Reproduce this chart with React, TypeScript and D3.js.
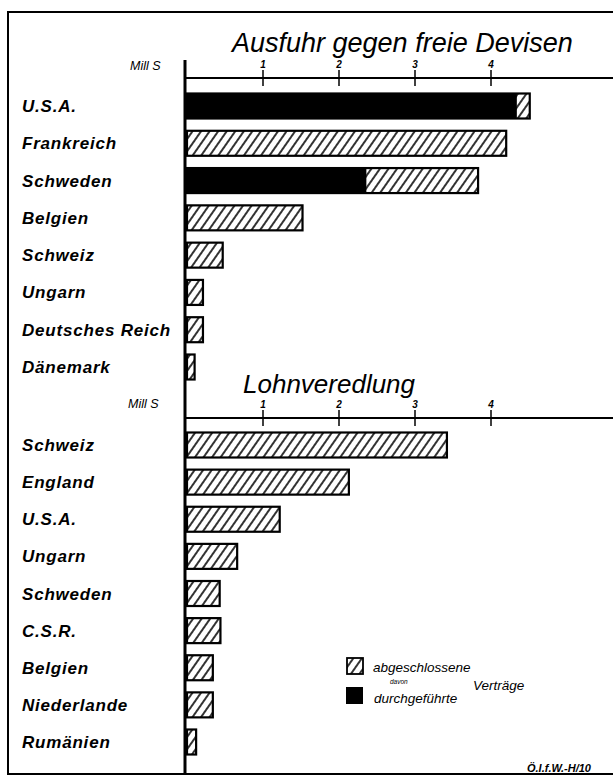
import React from "react";
import * as d3 from "d3";

// Ausfuhr gegen freie Devisen (Mill S)
const exportCountries = [
  "U.S.A.",
  "Frankreich",
  "Schweden",
  "Belgien",
  "Schweiz",
  "Ungarn",
  "Deutsches Reich",
  "Dänemark",
];
const exportClosed = [4.51, 4.2, 3.83, 1.52, 0.47, 0.21, 0.21, 0.1];
const exportExecuted = [4.34, 0, 2.36, 0, 0, 0, 0, 0];

// Lohnveredlung (Mill S)
const processingCountries = [
  "Schweiz",
  "England",
  "U.S.A.",
  "Ungarn",
  "Schweden",
  "C.S.R.",
  "Belgien",
  "Niederlande",
  "Rumänien",
];
const processingClosed = [3.42, 2.13, 1.22, 0.66, 0.43, 0.44, 0.34, 0.34, 0.12];

const tickValues = [1, 2, 3, 4];

const W = 613;
const H = 776;
const FONT = "'Liberation Sans', Arial, sans-serif";

const x = d3.scaleLinear().domain([0, 4]).range([187, 491]);
const yTop = d3.scalePoint().domain(exportCountries).range([106, 367]);
const yLow = d3.scalePoint().domain(processingCountries).range([445, 742]);
const barH = 25;

const Axis = ({ y }) => (
  <g>
    <line x1={185} x2={W} y1={y} y2={y} stroke="#000" strokeWidth={2} />
    {tickValues.map(t => (
      <g key={t}>
        <line x1={x(t)} x2={x(t)} y1={y - 8} y2={y + 8} stroke="#000" strokeWidth={1.5} />
        <text
          x={x(t)}
          y={y - 10}
          textAnchor="middle"
          fontFamily={FONT}
          fontStyle="italic"
          fontWeight="bold"
          fontSize={10}
        >
          {t}
        </text>
      </g>
    ))}
  </g>
);

const Labels = ({ names, scale }) => (
  <g>
    {names.map(n => (
      <text
        key={n}
        x={22}
        y={scale(n) + 6}
        fontFamily={FONT}
        fontStyle="italic"
        fontWeight="bold"
        fontSize={17}
        letterSpacing={0.8}
      >
        {n}
      </text>
    ))}
  </g>
);

export default function App() {
  return (
    <svg
      width={W}
      height={H}
      style={{ position: "absolute", left: 0, top: 0, background: "#fff" }}
    >
      <defs>
        <pattern
          id="hatch"
          width={7}
          height={7}
          patternUnits="userSpaceOnUse"
          patternTransform="rotate(35)"
        >
          <rect width={7} height={7} fill="#fff" />
          <line x1={2} x2={2} y1={0} y2={7} stroke="#000" strokeWidth={1.6} />
        </pattern>
      </defs>

      {/* frame */}
      <rect x={8} y={12} width={W + 10} height={762} fill="none" stroke="#000" strokeWidth={2} />
      <line x1={185} x2={185} y1={60} y2={774} stroke="#000" strokeWidth={3} />

      {/* titles */}
      <text x={232} y={52} fontFamily={FONT} fontStyle="italic" fontSize={27}>
        Ausfuhr gegen freie Devisen
      </text>
      <text x={243} y={393} fontFamily={FONT} fontStyle="italic" fontSize={26}>
        Lohnveredlung
      </text>
      <text x={130} y={70} fontFamily={FONT} fontStyle="italic" fontSize={12.5}>
        Mill S
      </text>
      <text x={128} y={408} fontFamily={FONT} fontStyle="italic" fontSize={12.5}>
        Mill S
      </text>

      <Axis y={78} />
      <Axis y={418} />

      <Labels names={exportCountries} scale={yTop} />
      <Labels names={processingCountries} scale={yLow} />

      {/* export bars */}
      {exportCountries.map((c, i) => (
        <g key={c}>
          <rect
            x={x(0)}
            y={yTop(c) - barH / 2}
            width={x(exportClosed[i]) - x(0)}
            height={barH}
            fill="url(#hatch)"
          />
          {exportExecuted[i] > 0 && (
            <rect
              x={x(0)}
              y={yTop(c) - barH / 2}
              width={x(exportExecuted[i]) - x(0)}
              height={barH}
              fill="#000"
            />
          )}
          <rect
            x={x(0)}
            y={yTop(c) - barH / 2}
            width={x(exportClosed[i]) - x(0)}
            height={barH}
            fill="none"
            stroke="#000"
            strokeWidth={2.2}
          />
        </g>
      ))}

      {/* processing bars */}
      {processingCountries.map((c, i) => (
        <rect
          key={c}
          x={x(0)}
          y={yLow(c) - barH / 2}
          width={x(processingClosed[i]) - x(0)}
          height={barH}
          fill="url(#hatch)"
          stroke="#000"
          strokeWidth={2.2}
        />
      ))}

      {/* legend */}
      <rect x={347} y={658} width={16} height={16} fill="url(#hatch)" stroke="#000" strokeWidth={1.8} />
      <rect x={346} y={687} width={17} height={17} fill="#000" />
      <g fontFamily={FONT} fontStyle="italic">
        <text x={373} y={672} fontSize={13.5}>abgeschlossene</text>
        <text x={390} y={684} fontSize={6.5}>davon</text>
        <text x={374} y={703} fontSize={13.5}>durchgeführte</text>
        <text x={473} y={690} fontSize={13.5}>Verträge</text>
        <text x={527} y={772} fontSize={11} fontWeight="bold">Ö.I.f.W.-H/10</text>
      </g>
    </svg>
  );
}
